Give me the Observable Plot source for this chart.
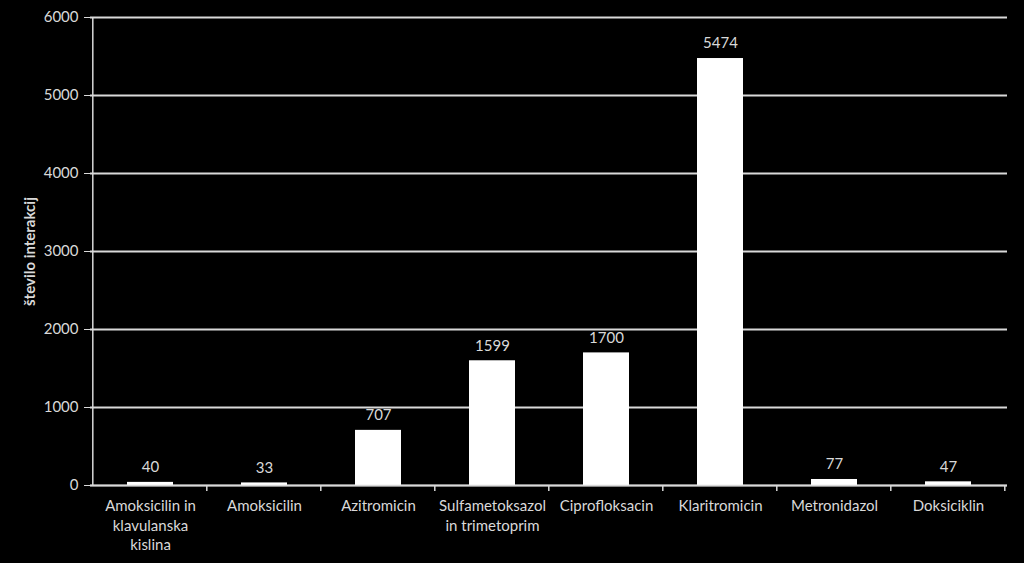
<!DOCTYPE html>
<html>
<head>
<meta charset="utf-8">
<script src="https://cdn.jsdelivr.net/npm/d3@7"></script>
<script src="https://cdn.jsdelivr.net/npm/@observablehq/plot@0.6"></script>
<style>
  html, body { margin: 0; padding: 0; background: #000; }
  #chart svg { display: block; }
  [aria-label="y-axis label"] text, [aria-label="y-axis label"] { font-weight: bold; }
</style>
</head>
<body>
<div id="chart"></div>
<script>
const categories = [
  "Amoksicilin in\nklavulanska\nkislina",
  "Amoksicilin",
  "Azitromicin",
  "Sulfametoksazol\nin trimetoprim",
  "Ciprofloksacin",
  "Klaritromicin",
  "Metronidazol",
  "Doksiciklin"
];
const values = [40, 33, 707, 1599, 1700, 5474, 77, 47];
const yTicks = [0, 1000, 2000, 3000, 4000, 5000, 6000];
const yLabel = "število interakcij";

const data = categories.map((c, i) => ({name: c, value: values[i]}));
const fg = "#d9d9d9";

const chart = Plot.plot({
  width: 1024,
  height: 563,
  marginLeft: 90,
  marginRight: 17,
  marginTop: 17,
  marginBottom: 78,
  style: {background: "#000", color: fg, fontFamily: "Lato, 'Open Sans', sans-serif", fontSize: "15px"},
  x: {domain: categories, paddingInner: 0.6, paddingOuter: 0.3, label: null},
  y: {domain: [0, 6000], label: null},
  marks: [
    Plot.gridY(yTicks, {stroke: fg, strokeOpacity: 1, strokeWidth: 2}),
    Plot.barY(data, {x: "name", y: "value", fill: "#fff"}),
    Plot.text(data, {x: "name", y: "value", text: d => String(d.value), dy: -15, fill: fg, fontSize: 15}),
    Plot.axisY(yTicks, {tickSize: 6, tickPadding: 6, stroke: fg, fill: fg, fontSize: 15, tickFormat: d => String(d),
      label: yLabel, labelAnchor: "center", labelArrow: "none", labelOffset: 66}),
    Plot.axisX({tickSize: 0, tickPadding: 12, fill: fg, fontSize: 15, lineHeight: 1.3}),
    Plot.ruleY([0], {stroke: fg, strokeWidth: 1.5})
  ]
});

document.getElementById("chart").appendChild(chart);

// y-axis line and category boundary tick marks from the scales
const xs = chart.scale("x");
const ys = chart.scale("y");
const svg = d3.select(chart);
const y0 = ys.apply(0);
const yTop = ys.apply(6000);
const x0 = xs.apply(categories[0]) - xs.step * xs.paddingOuter;
const g = svg.append("g").attr("stroke", fg);
g.append("line").attr("x1", x0).attr("x2", x0).attr("y1", yTop).attr("y2", y0).attr("stroke-width", 1.5);
const bounds = categories.map((c, i) => x0 + xs.step * (i + 1));
g.selectAll("line.tk").data(bounds).join("line").attr("class", "tk")
  .attr("x1", d => d).attr("x2", d => d).attr("y1", y0).attr("y2", y0 + 6).attr("stroke-width", 1.5);
</script>
</body>
</html>
